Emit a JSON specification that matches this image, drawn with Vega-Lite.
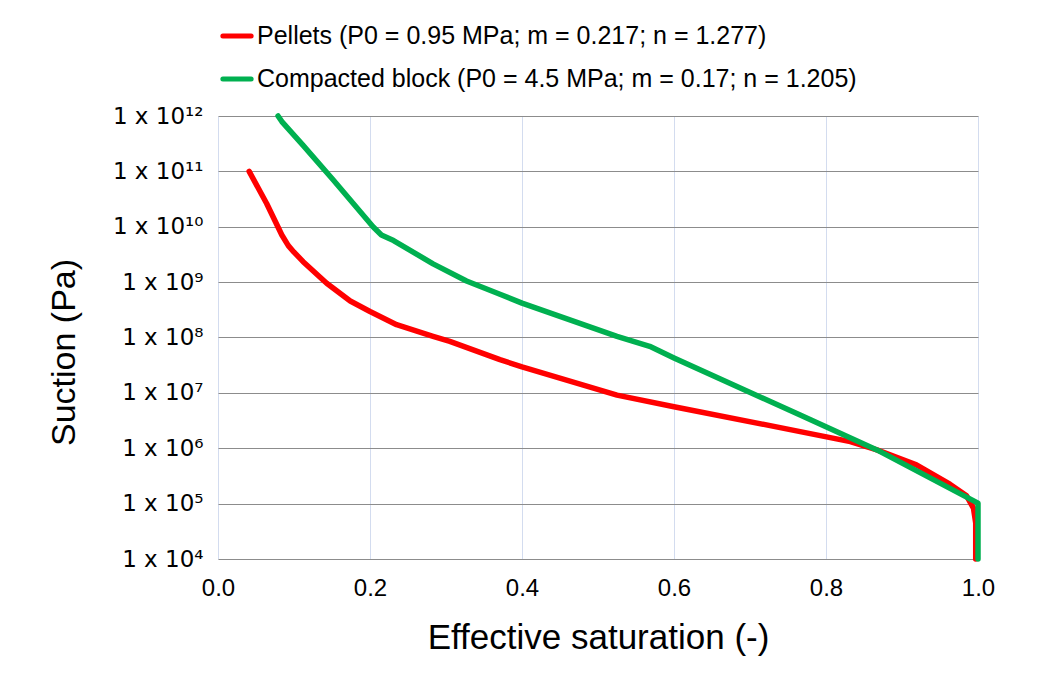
{
  "$schema": "https://vega.github.io/schema/vega-lite/v6.json",
  "width": 760,
  "height": 443,
  "autosize": {"type": "none"},
  "padding": {"left": 218, "top": 116, "right": 59, "bottom": 114},
  "background": "white",
  "config": {"view": {"stroke": null}, "font": "Liberation Sans"},
  "data": {
    "values": [
      {"series": "Pellets (P0 = 0.95 MPa; m = 0.217; n = 1.277)", "saturation": 0.041, "suction": 1e11},
      {"series": "Pellets (P0 = 0.95 MPa; m = 0.217; n = 1.277)", "saturation": 0.064, "suction": 2.63e10},
      {"series": "Pellets (P0 = 0.95 MPa; m = 0.217; n = 1.277)", "saturation": 0.084, "suction": 7.08e9},
      {"series": "Pellets (P0 = 0.95 MPa; m = 0.217; n = 1.277)", "saturation": 0.0925, "suction": 4.57e9},
      {"series": "Pellets (P0 = 0.95 MPa; m = 0.217; n = 1.277)", "saturation": 0.1, "suction": 3.47e9},
      {"series": "Pellets (P0 = 0.95 MPa; m = 0.217; n = 1.277)", "saturation": 0.112, "suction": 2.34e9},
      {"series": "Pellets (P0 = 0.95 MPa; m = 0.217; n = 1.277)", "saturation": 0.143, "suction": 9.55e8},
      {"series": "Pellets (P0 = 0.95 MPa; m = 0.217; n = 1.277)", "saturation": 0.174, "suction": 4.57e8},
      {"series": "Pellets (P0 = 0.95 MPa; m = 0.217; n = 1.277)", "saturation": 0.2, "suction": 2.95e8},
      {"series": "Pellets (P0 = 0.95 MPa; m = 0.217; n = 1.277)", "saturation": 0.235, "suction": 1.7e8},
      {"series": "Pellets (P0 = 0.95 MPa; m = 0.217; n = 1.277)", "saturation": 0.283, "suction": 1.05e8},
      {"series": "Pellets (P0 = 0.95 MPa; m = 0.217; n = 1.277)", "saturation": 0.305, "suction": 8.51e7},
      {"series": "Pellets (P0 = 0.95 MPa; m = 0.217; n = 1.277)", "saturation": 0.371, "suction": 3.98e7},
      {"series": "Pellets (P0 = 0.95 MPa; m = 0.217; n = 1.277)", "saturation": 0.4, "suction": 2.95e7},
      {"series": "Pellets (P0 = 0.95 MPa; m = 0.217; n = 1.277)", "saturation": 0.525, "suction": 9.12e6},
      {"series": "Pellets (P0 = 0.95 MPa; m = 0.217; n = 1.277)", "saturation": 0.6, "suction": 5.62e6},
      {"series": "Pellets (P0 = 0.95 MPa; m = 0.217; n = 1.277)", "saturation": 0.766, "suction": 2.0e6},
      {"series": "Pellets (P0 = 0.95 MPa; m = 0.217; n = 1.277)", "saturation": 0.832, "suction": 1.32e6},
      {"series": "Pellets (P0 = 0.95 MPa; m = 0.217; n = 1.277)", "saturation": 0.867, "suction": 9.33e5},
      {"series": "Pellets (P0 = 0.95 MPa; m = 0.217; n = 1.277)", "saturation": 0.919, "suction": 5.0e5},
      {"series": "Pellets (P0 = 0.95 MPa; m = 0.217; n = 1.277)", "saturation": 0.963, "suction": 2.24e5},
      {"series": "Pellets (P0 = 0.95 MPa; m = 0.217; n = 1.277)", "saturation": 0.985, "suction": 1.38e5},
      {"series": "Pellets (P0 = 0.95 MPa; m = 0.217; n = 1.277)", "saturation": 0.994, "suction": 8.32e4},
      {"series": "Pellets (P0 = 0.95 MPa; m = 0.217; n = 1.277)", "saturation": 0.997, "suction": 4.47e4},
      {"series": "Pellets (P0 = 0.95 MPa; m = 0.217; n = 1.277)", "saturation": 0.997, "suction": 1.1e4},
      {"series": "Pellets (P0 = 0.95 MPa; m = 0.217; n = 1.277)", "saturation": 0.997, "suction": 1e4},
      {"series": "Compacted block (P0 = 4.5 MPa; m = 0.17; n = 1.205)", "saturation": 0.079, "suction": 1e12},
      {"series": "Compacted block (P0 = 4.5 MPa; m = 0.17; n = 1.205)", "saturation": 0.084, "suction": 7.94e11},
      {"series": "Compacted block (P0 = 4.5 MPa; m = 0.17; n = 1.205)", "saturation": 0.112, "suction": 2.95e11},
      {"series": "Compacted block (P0 = 4.5 MPa; m = 0.17; n = 1.205)", "saturation": 0.152, "suction": 6.92e10},
      {"series": "Compacted block (P0 = 4.5 MPa; m = 0.17; n = 1.205)", "saturation": 0.204, "suction": 1e10},
      {"series": "Compacted block (P0 = 4.5 MPa; m = 0.17; n = 1.205)", "saturation": 0.215, "suction": 7.08e9},
      {"series": "Compacted block (P0 = 4.5 MPa; m = 0.17; n = 1.205)", "saturation": 0.231, "suction": 5.62e9},
      {"series": "Compacted block (P0 = 4.5 MPa; m = 0.17; n = 1.205)", "saturation": 0.283, "suction": 2.14e9},
      {"series": "Compacted block (P0 = 4.5 MPa; m = 0.17; n = 1.205)", "saturation": 0.327, "suction": 1.05e9},
      {"series": "Compacted block (P0 = 4.5 MPa; m = 0.17; n = 1.205)", "saturation": 0.371, "suction": 6.03e8},
      {"series": "Compacted block (P0 = 4.5 MPa; m = 0.17; n = 1.205)", "saturation": 0.4, "suction": 4.17e8},
      {"series": "Compacted block (P0 = 4.5 MPa; m = 0.17; n = 1.205)", "saturation": 0.525, "suction": 1.05e8},
      {"series": "Compacted block (P0 = 4.5 MPa; m = 0.17; n = 1.205)", "saturation": 0.568, "suction": 6.92e7},
      {"series": "Compacted block (P0 = 4.5 MPa; m = 0.17; n = 1.205)", "saturation": 0.6, "suction": 4.27e7},
      {"series": "Compacted block (P0 = 4.5 MPa; m = 0.17; n = 1.205)", "saturation": 0.766, "suction": 3.98e6},
      {"series": "Compacted block (P0 = 4.5 MPa; m = 0.17; n = 1.205)", "saturation": 0.867, "suction": 9.33e5},
      {"series": "Compacted block (P0 = 4.5 MPa; m = 0.17; n = 1.205)", "saturation": 1.0, "suction": 1.02e5},
      {"series": "Compacted block (P0 = 4.5 MPa; m = 0.17; n = 1.205)", "saturation": 1.0, "suction": 1e4}
    ]
  },
  "mark": {"type": "line", "strokeWidth": 5.5, "strokeCap": "round", "strokeJoin": "round", "clip": false},
  "encoding": {
    "x": {
      "field": "saturation",
      "type": "quantitative",
      "scale": {"domain": [0, 1], "nice": false, "zero": false},
      "axis": {
        "title": "Effective saturation (-)",
        "values": [0, 0.2, 0.4, 0.6, 0.8, 1],
        "format": ".1f",
        "grid": true,
        "gridColor": "#D3DCEF",
        "gridWidth": 1,
        "domain": false,
        "ticks": false,
        "labelFontSize": 24,
        "labelColor": "#000000",
        "labelPadding": 17,
        "labelFlush": false,
        "titleFontSize": 35,
        "titleFontWeight": "normal",
        "titleColor": "#000000",
        "titlePadding": 20
      }
    },
    "y": {
      "field": "suction",
      "type": "quantitative",
      "scale": {"type": "log", "domain": [10000, 1000000000000], "nice": false},
      "axis": {
        "title": "Suction (Pa)",
        "values": [10000, 100000, 1000000, 10000000, 100000000, 1000000000, 10000000000, 100000000000, 1000000000000],
        "labelExpr": "'1 x 10' + ['⁰','¹','²','³','⁴','⁵','⁶','⁷','⁸','⁹','¹⁰','¹¹','¹²'][round(log(datum.value)/LN10)]",
        "grid": true,
        "gridColor": "#8C8C8C",
        "gridWidth": 1,
        "domain": false,
        "ticks": false,
        "labelFont": "DejaVu Sans",
        "labelFontSize": 23,
        "labelColor": "#000000",
        "labelPadding": 15,
        "labelFlush": false,
        "titleFontSize": 34,
        "titleFontWeight": "normal",
        "titleColor": "#000000",
        "titlePadding": 31,
        "titleY": 236
      }
    },
    "color": {
      "field": "series",
      "type": "nominal",
      "sort": null,
      "scale": {
        "domain": ["Pellets (P0 = 0.95 MPa; m = 0.217; n = 1.277)", "Compacted block (P0 = 4.5 MPa; m = 0.17; n = 1.205)"],
        "range": ["#FF0000", "#00B050"]
      },
      "legend": {
        "orient": "none",
        "legendX": 2,
        "legendY": -97,
        "title": null,
        "direction": "vertical",
        "symbolType": "stroke",
        "symbolStrokeWidth": 5,
        "symbolSize": 800,
        "labelFontSize": 25,
        "labelColor": "#000000",
        "labelOffset": 3,
        "labelLimit": 900,
        "rowPadding": 13,
        "encode": {"symbols": {"update": {"strokeCap": {"value": "round"}}}}
      }
    },
    "order": {"field": "suction", "sort": "descending"}
  }
}
